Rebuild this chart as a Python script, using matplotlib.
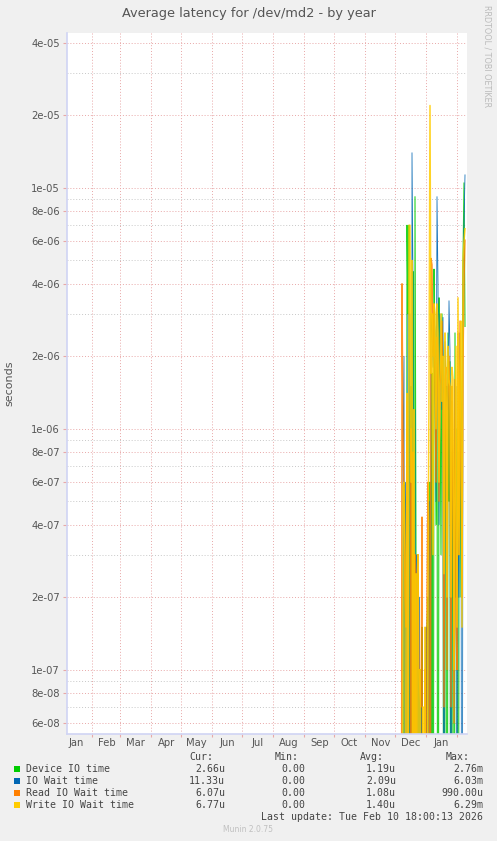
import numpy as np
import pandas as pd
import matplotlib
matplotlib.use("Agg")
import matplotlib.pyplot as plt
import matplotlib.dates as mdates
from matplotlib.ticker import FixedLocator, NullFormatter

# daily averages in microseconds, starting 2025-12-05 (0 = idle)
first_day = "2025-12-05"
device_io = [0, 0, 0, 0, 0.6, 0.5, 0, 7.0, 3.0, 7.0, 0, 1.5, 0, 4.5, 0, 9.2, 0.3, 0, 0.25, 0,
             0.1, 0, 0.15, 0, 0, 0, 0, 0.15, 0.2, 0, 0.6, 0, 1.7, 0, 4.6, 2.2, 0.4, 3.0, 0, 3.5,
             1.5, 0.3, 3.0, 2.0, 0, 1.0, 1.5, 0, 2.5, 0.5, 1.9, 0, 0.8, 0.2, 0, 2.5, 0.2, 1.0, 0, 0.4,
             1.2, 0.2, 1.5, 5.0, 10.5, 2.66]
io_wait = [0, 0, 0, 0.8, 2.0, 0, 0.6, 0, 3.0, 0, 3.0, 0, 14.0, 4.0, 0, 1.2, 0, 0.3, 0, 0.2,
           0, 0.1, 0, 0, 0, 0, 0.15, 0, 0, 0.5, 0, 3.0, 2.5, 1.8, 3.0, 2.5, 0.5, 9.2, 4.0, 0.4,
           3.0, 2.0, 1.2, 2.9, 0, 2.3, 1.5, 1.5, 1.2, 3.4, 2.1, 0, 1.3, 0.7, 0.3, 0.4, 1.5, 0, 0.8, 0.2,
           2.5, 1.2, 0, 4.0, 7.0, 11.33]
read_wait = [0, 0, 4.0, 1.0, 0.5, 0.2, 0.15, 1.3, 0.4, 0, 0, 1.0, 0, 0.8, 0, 0.3, 0, 0.25, 0.3, 0.1,
             0.08, 0.07, 0.43, 0, 0, 0.1, 0, 0.2, 0.6, 0.4, 0, 5.1, 4.8, 2.0, 3.3, 1.5, 0.6, 2.4, 2.0, 0.5,
             1.5, 1.8, 2.8, 1.2, 0.07, 1.6, 1.8, 0.1, 1.3, 2.0, 1.2, 0.07, 1.5, 0.8, 0.06, 1.6, 0.15, 0.1, 2.5, 0.3,
             2.8, 0.6, 0.2, 1.8, 4.0, 6.07]
write_wait = [0, 0, 0, 0.58, 0.6, 0.3, 0, 1.4, 0, 7.0, 7.0, 0.6, 5.0, 0, 1.2, 0, 0.25, 0, 0.3, 0,
              0.1, 0, 0, 0.07, 0, 0.15, 0, 0, 0.2, 1.5, 22.0, 1.7, 3.0, 0.3, 3.3, 3.0, 1.0, 3.3, 2.5, 0.6,
              1.8, 3.0, 1.3, 2.0, 0.25, 2.5, 1.8, 0.2, 2.2, 1.6, 1.5, 0.2, 1.8, 1.6, 0.1, 0.5, 2.2, 0.15, 3.5, 0.3,
              1.7, 2.8, 0.15, 5.0, 6.0, 6.77]

labels = ["Device IO time", "IO Wait time", "Read IO Wait time", "Write IO Wait time"]
colors = ["#00CC00", "#0066B3", "#FF8000", "#FFCC00"]
cur = ["2.66u", "11.33u", "6.07u", "6.77u"]
mins = ["0.00", "0.00", "0.00", "0.00"]
avgs = ["1.19u", "2.09u", "1.08u", "1.40u"]
maxs = ["2.76m", "6.03m", "990.00u", "6.29m"]

yticks = [6e-8, 8e-8, 1e-7, 2e-7, 4e-7, 6e-7, 8e-7, 1e-6, 2e-6, 4e-6, 6e-6, 8e-6, 1e-5, 2e-5, 4e-5]
yminor = [7e-8, 9e-8, 3e-7, 5e-7, 7e-7, 9e-7, 3e-6, 5e-6, 7e-6, 9e-6, 3e-5]

BG = "#F0F0F0"
W, H = 497, 841
fig = plt.figure(figsize=(W / 100, H / 100), dpi=100, facecolor=BG)
ax = fig.add_axes([67 / W, 1 - 734 / H, 400 / W, 701 / H])
ax.set_facecolor("white")

days = pd.date_range(first_day, periods=len(device_io), freq="D") + pd.Timedelta(hours=18)
widths = [0.8, 0.6, 1.0, 1.1]
alphas = [0.85, 0.9, 0.85, 0.85]
for vals, c, lw, a in zip([device_io, io_wait, read_wait, write_wait], colors, widths, alphas):
    v = np.array(vals) * 1e-6
    v = np.where(v > 0, v, 1e-10)  # idle days drop below the axis
    ax.plot(days, v, color=c, lw=lw, alpha=a)

ax.set_yscale("log")
ax.set_ylim(5.4e-8, 4.4e-5)
ax.set_xlim(pd.Timestamp("2025-01-06 18:00"), pd.Timestamp("2026-02-10 18:00"))

ax.yaxis.set_major_locator(FixedLocator(yticks))
ax.yaxis.set_minor_locator(FixedLocator(yminor))
ax.yaxis.set_minor_formatter(NullFormatter())
ax.set_yticklabels(["%.0e" % t for t in yticks])

ax.xaxis.set_major_locator(mdates.MonthLocator())
ax.xaxis.set_major_formatter(NullFormatter())
ax.xaxis.set_minor_locator(mdates.MonthLocator(bymonthday=16))
ax.xaxis.set_minor_formatter(mdates.DateFormatter("%b"))

ax.grid(True, which="major", axis="both", color="#E8A8A8", ls=(0, (1, 2)), lw=0.7)
ax.grid(True, which="minor", axis="y", color="#C8C8C8", ls=(0, (1, 2)), lw=0.7)
ax.set_axisbelow(True)

ax.tick_params(axis="y", which="major", length=3, color="#E8A8A8", labelsize=7.2, labelcolor="#555555", pad=2)
ax.tick_params(axis="y", which="minor", length=0)
ax.tick_params(axis="x", which="major", length=2, color="#E8A8A8", direction="out")
ax.tick_params(axis="x", which="minor", length=0, labelsize=7.2, labelcolor="#555555", pad=3)

for s in ["top", "right"]:
    ax.spines[s].set_visible(False)
for s in ["left", "bottom"]:
    ax.spines[s].set_color("#D0D4F4")
    ax.spines[s].set_linewidth(1.2)

ax.set_ylabel("seconds", fontsize=8, color="#555555", labelpad=12)

fig.text(0.5, 1 - 13 / H, "Average latency for /dev/md2 - by year", ha="center", va="center",
         fontsize=9.3, color="#555555")
fig.text(487 / W, 1 - 5 / H, "RRDTOOL / TOBI OETIKER", rotation=270, ha="center", va="top",
         fontsize=5.8, color="#BBBBBB")

mono = dict(family="DejaVu Sans Mono", fontsize=7.1, color="#444444", va="center")
fig.text(213 / W, 1 - 757 / H, "Cur:", ha="right", **mono)
fig.text(299 / W, 1 - 757 / H, "Min:", ha="right", **mono)
fig.text(384 / W, 1 - 757 / H, "Avg:", ha="right", **mono)
fig.text(470 / W, 1 - 757 / H, "Max:", ha="right", **mono)
for i, lab in enumerate(labels):
    y = 1 - (769 + 12 * i) / H
    fig.patches.append(plt.Rectangle((14 / W, y - 3 / H), 6 / W, 6 / H, transform=fig.transFigure,
                                     facecolor=colors[i], edgecolor="none"))
    fig.text(26 / W, y, lab, ha="left", **mono)
    fig.text(225 / W, y, cur[i], ha="right", **mono)
    fig.text(305 / W, y, mins[i], ha="right", **mono)
    fig.text(396 / W, y, avgs[i], ha="right", **mono)
    fig.text(483 / W, y, maxs[i], ha="right", **mono)
fig.text(483 / W, 1 - 817 / H, "Last update: Tue Feb 10 18:00:13 2026", ha="right", **mono)
fig.text(248 / W, 1 - 830 / H, "Munin 2.0.75", ha="center", va="center", fontsize=5.5, color="#C0C0C0")

fig.savefig("out.png", dpi=100, facecolor=BG)
